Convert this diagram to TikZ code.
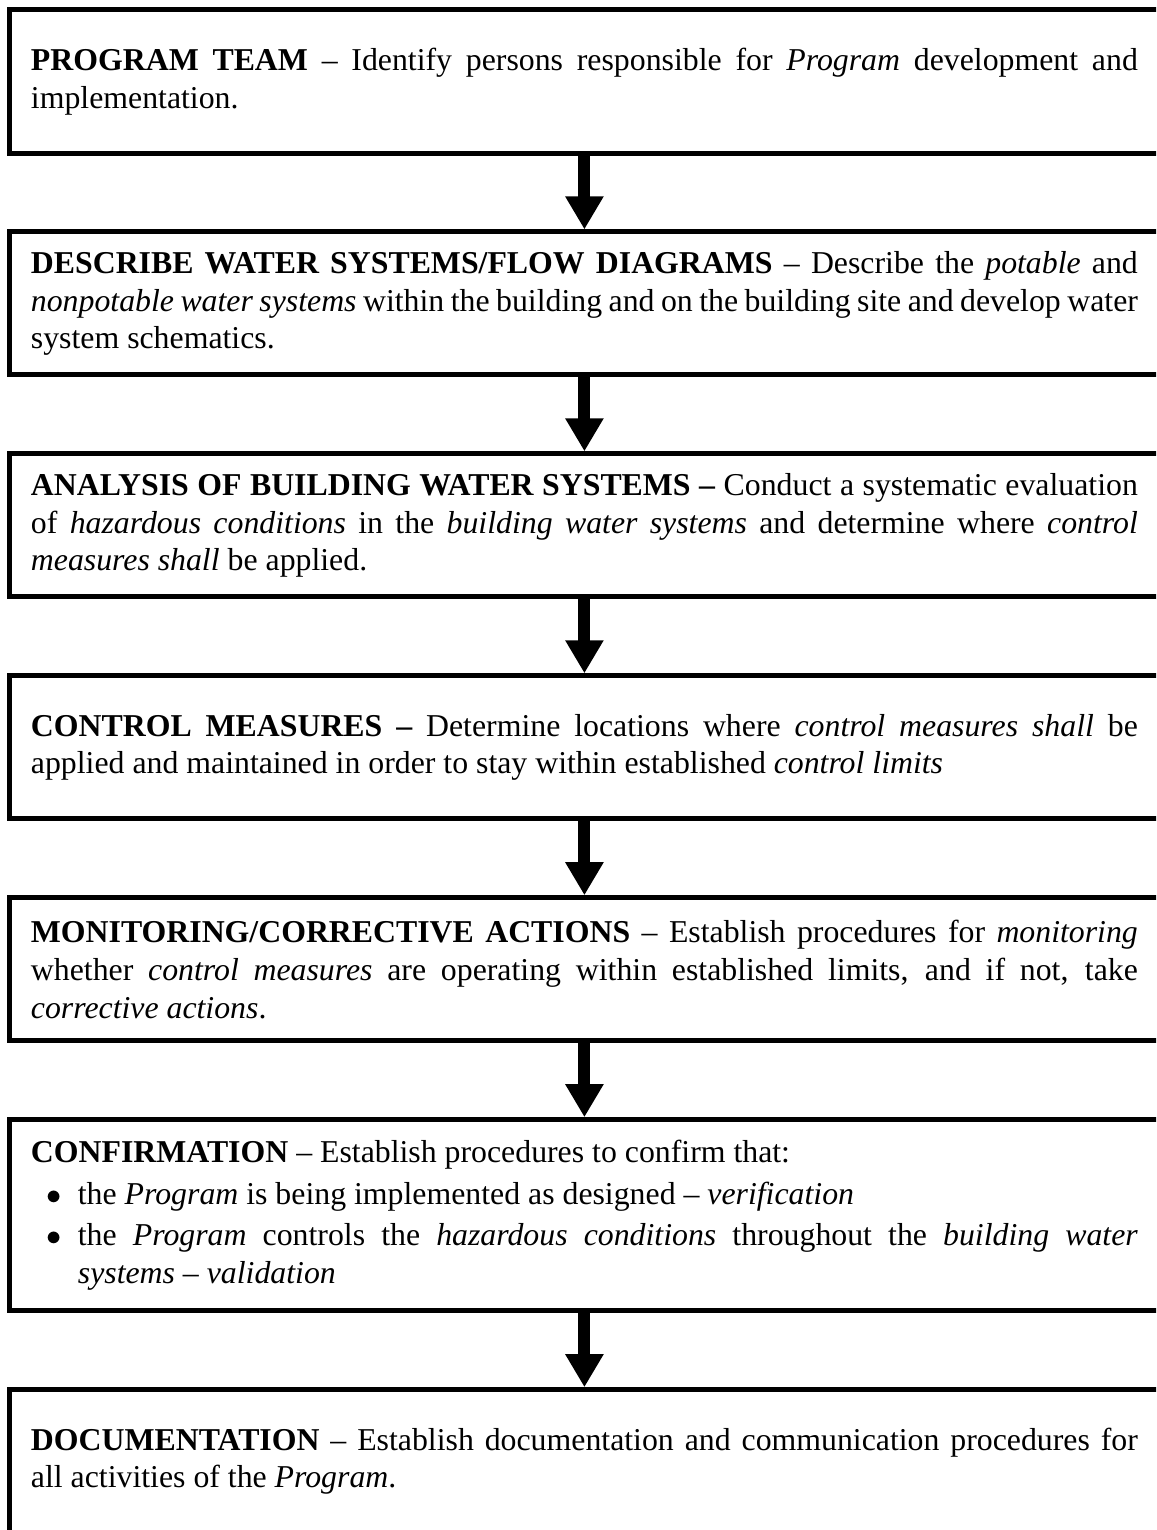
\documentclass[tikz,border=0pt]{standalone}
\usepackage{fontspec}
\setmainfont{Liberation Serif}
\usepackage{tikz}
\usetikzlibrary{arrows.meta,positioning}
\hyphenpenalty=10000
\tolerance=9999
\tikzset{
    %Define style for boxes
    stufe/.style={
           rectangle,
           draw=black, line width=1.8pt,
           text width=398.5pt,
           inner xsep=7.9pt, inner ysep=4pt,
           minimum height=51.5pt,
           align=justify,
           font=\fontsize{11.45pt}{13.6pt}\selectfont},
    % Define arrow style
    pfeil/.style={
           line width=4.3pt,
           -{Triangle[width=13pt,length=11.9pt]}}
}
% bullet item inside a box
\newcommand{\punkt}{\noindent\hangindent=16.9pt\hangafter=1\hspace*{5.6pt}\makebox[11.3pt][l]{$\bullet$}}

\begin{document}
\begin{tikzpicture}[x=0.36pt,y=-0.36pt,node distance=26.6pt]
  \useasboundingbox (0,0) rectangle (1156,1530);
  \clip (0,0) rectangle (1156,1530);
  \node[stufe,anchor=north west] (team) at (6.5,7.5)
    {\textbf{PROGRAM TEAM} -- Identify persons responsible for \emph{Program} development and\linebreak implementation.};
  \node[stufe] (describe) [below=of team]
    {\textbf{DESCRIBE WATER SYSTEMS/FLOW DIAGRAMS} -- Describe the \emph{potable} and\linebreak \emph{nonpotable water systems} within the building and on the building site and develop water\linebreak system schematics.};
  \node[stufe] (analysis) [below=of describe]
    {\textbf{ANALYSIS OF BUILDING WATER SYSTEMS --} Conduct a systematic evaluation\linebreak of \emph{hazardous conditions} in the \emph{building water systems} and determine where \emph{control}\linebreak \emph{measures shall} be applied.};
  \node[stufe] (control) [below=of analysis]
    {\textbf{CONTROL MEASURES --} Determine locations where \emph{control measures shall} be\linebreak applied and maintained in order to stay within established \emph{control limits}};
  \node[stufe] (monitor) [below=of control]
    {\textbf{MONITORING/CORRECTIVE ACTIONS} -- Establish procedures for \emph{monitoring}\linebreak whether \emph{control measures} are operating within established limits, and if not, take\linebreak \emph{corrective actions}.};
  \node[stufe,minimum height=68.8pt] (confirm) [below=of monitor]
    {\textbf{CONFIRMATION} -- Establish procedures to confirm that:\par\vspace{1.5pt}
     \punkt the \emph{Program} is being implemented as designed -- \emph{verification}\par\vspace{1pt}
     \punkt the \emph{Program} controls the \emph{hazardous conditions} throughout the \emph{building water}\linebreak \emph{systems -- validation}\par};
  \node[stufe] (docu) [below=of confirm]
    {\textbf{DOCUMENTATION} -- Establish documentation and communication procedures for\linebreak all activities of the \emph{Program}.};
  \path[pfeil]
    (team) edge (describe)
    (describe) edge (analysis)
    (analysis) edge (control)
    (control) edge (monitor)
    (monitor) edge (confirm)
    (confirm) edge (docu);
\end{tikzpicture}
\end{document}
